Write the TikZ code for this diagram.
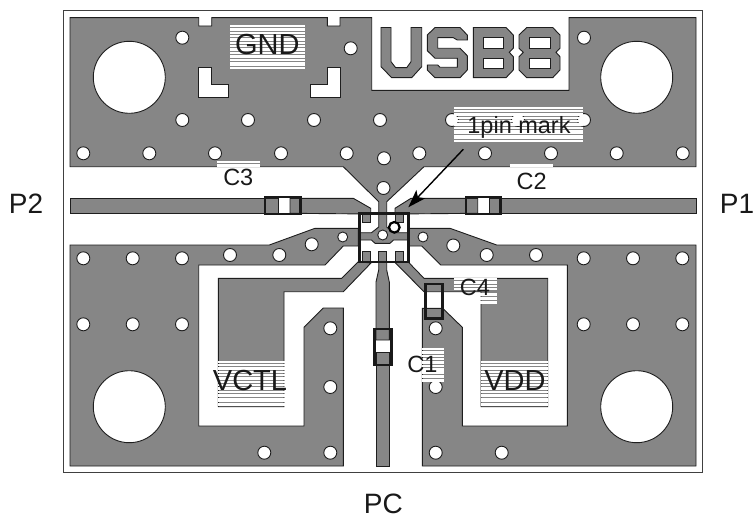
\documentclass[tikz,border=0pt]{standalone}
\usepackage{fontspec}
\setmainfont{Liberation Sans}
\usetikzlibrary{arrows.meta}
\definecolor{cu}{HTML}{868686}
\definecolor{ink}{HTML}{1E1E1E}
\tikzset{
  metal/.style={fill=cu,draw=ink,line width=0.9pt,line join=miter},
  cut/.style={fill=white,draw=ink,line width=0.9pt},
  hole/.style={fill=white,draw=ink,line width=0.9pt},
  capbox/.style={draw=black!90,line width=2.4pt},
  lab/.style={inner sep=0pt,text=black!90},
  big/.style={lab,font=\fontsize{29}{31}\selectfont},
  port/.style={lab,font=\fontsize{28}{30}\selectfont},
  small/.style={lab,font=\fontsize{23.5}{25}\selectfont}
}
\newcommand{\whitebands}[5]{%
  \foreach \i in {1,...,#4}{\fill[white] (#1,{#3+(\i-1)*3.35}) rectangle (#2,{#3+(\i-1)*3.35+2.4});}%
  \foreach \a/\b in {#5}{\fill[white] (#1,\a) rectangle (#2,\b);}%
}
\begin{document}
\begin{tikzpicture}[x=1pt,y=-1pt]
\useasboundingbox (0,0) rectangle (755,519);
\fill[white] (0,0) rectangle (755,519);
\draw[draw=black!75,line width=1pt] (63.3,11) rectangle (702.3,472);
% top plate
\draw[metal] (70,17.7) -- (198.7,17.7) -- (198.7,26) -- (211.7,26) -- (211.7,17.7) -- (327.3,17.7) -- (327.3,26) -- (340,26) -- (340,17.7) -- (371.7,17.7) -- (371.7,90.3) -- (569,90.3) -- (569,17.7) -- (696,17.7) -- (696,166.7) -- (424,166.7) -- (386.7,201.7) -- (386.7,214) -- (378.7,214) -- (378.7,201.7) -- (343.3,166.7) -- (70,166.7) -- cycle;
\draw[cut] (198.7,67.7) -- (211.7,67.7) -- (211.7,84) -- (228.3,84) -- (228.3,97) -- (198.7,97) -- cycle;
\draw[cut] (340,67.7) -- (327.3,67.7) -- (327.3,84) -- (310.7,84) -- (310.7,97) -- (340,97) -- cycle;
% lettering
\draw[metal] (381,27.5) -- (391,27.5) -- (391,61.7) -- (395.7,67.7) -- (406.7,67.7) -- (411,61.7) -- (411,27.5) -- (421.7,27.5) -- (421.7,66.7) -- (411.7,77.7) -- (391.7,77.7) -- (381,66.7) -- cycle;
\draw[metal] (435,27.5) -- (460,27.5) -- (467.3,35) -- (467.3,40) -- (457.3,40) -- (453.3,37.7) -- (437.7,37.7) -- (437.7,48.3) -- (460,48.3) -- (467.3,55.7) -- (467.3,70) -- (460,77.7) -- (435,77.7) -- (427.3,70) -- (427.3,65) -- (437.7,65) -- (440,67.3) -- (457.3,67.3) -- (457.3,58.3) -- (435,58.3) -- (427.3,50.7) -- (427.3,35) -- cycle;
\draw[metal] (473.3,27.5) -- (506,27.5) -- (513.3,35) -- (513.3,48.3) -- (509.3,52.3) -- (513.3,56.7) -- (513.3,70) -- (506,77.7) -- (473.3,77.7) -- cycle;
\draw[cut] (483.3,37.7) rectangle (503.3,48.3);
\draw[cut] (483.3,58.3) rectangle (503.3,68.3);
\draw[metal] (526.7,27.5) -- (552.7,27.5) -- (560,35) -- (560,48.3) -- (556,52.3) -- (560,56.7) -- (560,70) -- (552.7,77.7) -- (526.7,77.7) -- (519,70) -- (519,56.7) -- (523.3,52.3) -- (519,48.3) -- (519,35) -- cycle;
\draw[cut] (529.3,37.7) rectangle (550,48.3);
\draw[cut] (529.3,58.3) rectangle (550,68.3);
% side and lower plates
\draw[metal] (70,245) -- (269.3,245) -- (315,228.3) -- (358.3,228.3) -- (358.3,246) -- (343.3,246) -- (325,265) -- (198.7,265) -- (198.7,426) -- (304,426) -- (304,327.3) -- (323.3,308) -- (343.3,308) -- (343.3,466) -- (70,466) -- cycle;
\draw[metal] (408.3,228.3) -- (450,228.3) -- (496.7,245) -- (696,245) -- (696,466) -- (422.3,466) -- (422.3,308.3) -- (442.7,308.3) -- (462.3,327.3) -- (462.3,426) -- (567.3,426) -- (567.3,265) -- (440.7,265) -- (421.7,246) -- (408.3,246) -- cycle;
\draw[metal] (358.3,261.7) -- (341.7,278.3) -- (218.3,278.3) -- (218.3,406.7) -- (284,406.7) -- (284,291.7) -- (343.3,291.7) -- (371,263) -- cycle;
\draw[metal] (407.3,261) -- (424,278.3) -- (547.7,278.3) -- (547.7,406.7) -- (481,406.7) -- (481,291.7) -- (424,291.7) -- (395,262.5) -- cycle;
% holes
\foreach \p in {(182.3,37.7),(350.7,48.3),(584,37.7),(182.3,120),(248,120),(314,120),(380,120),(452,120),(518,120),(584,120),
  (83.3,153.3),(149.3,153.3),(215,153.3),(281,153.3),(346.7,153.3),(419.3,153.3),(485,153.3),(551,153.3),(616.7,153.3),(682.7,153.3),
  (384,158.3),(383.5,188),
  (83.3,258.3),(132.7,258.3),(182,258.3),(230,255),(279.3,255),(311.7,244.3),
  (83.3,324.3),(132.7,324.3),(182,324.3),(330.3,328.3),(330.3,387),(264.3,452.7),(330.3,452.7),
  (435.7,328.3),(435.7,387),(435.7,452.7),(501.7,452.7),
  (453.3,245.5),(486.7,255),(536,255),(583.7,258.3),(633,258.3),(682.3,258.3),(583.7,324.3),(633,324.3),(682.3,324.3)}
  {\draw[hole] \p circle (6.5);}
\foreach \p in {(342.7,237),(423,237)} {\draw[hole] \p circle (5);}
\foreach \p in {(129.3,77.3),(636.7,77.3),(129.3,406.7),(636.7,406.7)} {\draw[hole] \p circle (36);}
% striplines and centre feed
\draw[metal] (70,198.3) -- (278.3,198.3) -- (278.3,213.3) -- (70,213.3) -- cycle;
\draw[metal] (290,198.3) -- (353.3,198.3) -- (370.7,208.3) -- (370.7,214) -- (290,213.3) -- cycle;
\draw[metal] (696,198.3) -- (489.7,198.3) -- (489.7,213.3) -- (696,213.3) -- cycle;
\draw[metal] (477.7,198.3) -- (411,198.3) -- (395,208.3) -- (395,214) -- (477.7,213.3) -- cycle;
\draw[metal] (376,352.3) rectangle (389.3,466);
\draw[metal] (378.7,255) -- (386.7,255) -- (386.7,270) -- (389.3,282) -- (389.3,340) -- (376,340) -- (376,282) -- (378.7,270) -- cycle;
% device
\fill[white] (359.3,213.3) rectangle (408.3,261.7);
\draw[metal] (362.3,213.3) -- (370.7,213.3) -- (370.7,222.7) -- (362.3,222.7) -- cycle;
\draw[metal] (395,213.3) -- (403.3,213.3) -- (403.3,222.7) -- (395,222.7) -- cycle;
\draw[metal] (359.3,232.7) -- (371.5,232.7) -- (378.7,227) -- (378.7,213.3) -- (386.7,213.3) -- (386.7,227) -- (393.5,232.7) -- (408.3,232.7) -- (408.3,240) -- (393.5,240) -- (390,243.3) -- (375,243.3) -- (371.5,240) -- (359.3,240) -- cycle;
\draw[hole] (382.7,235) circle (5);
\draw[metal] (362.3,251) rectangle (370.7,261.7);
\draw[metal] (378.7,251) rectangle (386.7,261.7);
\draw[metal] (395,251) rectangle (403.3,261.7);
\draw[capbox] (359.3,213.3) rectangle (408.3,261.7);
\draw[draw=black,line width=2.2pt,fill=white] (394.3,227.3) circle (5.3);
% capacitor boxes
\draw[capbox] (265,197) rectangle (300.5,214);
\draw[capbox] (466,197) rectangle (500.5,214);
\draw[capbox] (374.5,329) rectangle (391.5,365);
\draw[capbox] (425.5,284) rectangle (442.5,318.5);
% white hatch under labels
\whitebands{230}{305}{25}{10}{{58.6/61},{62/66},{67/69.5}}
\whitebands{454}{582.7}{106.5}{7}{{130/134},{135/139},{140/141.7}}
\whitebands{218.3}{284.5}{360.5}{10}{{394/397},{398/401.5},{402.5/405.5}}
\whitebands{481}{548}{360.5}{10}{{394/397},{398/401.5},{402.5/405.5}}
\whitebands{454}{496.7}{278}{4}{{292.5/296},{297/300},{301/303.5}}
\whitebands{421.7}{444}{348}{8}{{375/378},{379/381.7}}
\whitebands{216.7}{260}{160.7}{1}{{164/166.9}}
\fill[white] (510,164.2) rectangle (552.7,166.9);
% labels
\node[big] (gnd) at (267.3,44.3) {GND};
\node[big] (vctl) at (250,380.7) {VCTL};
\node[big] (vdd) at (515,380.7) {VDD};
\node[small] (pinmark) at (519,127.3) {1pin mark};
\node[small] (c1) at (422.3,364.3) {C1};
\node[small] (c2) at (531.7,181.7) {C2};
\node[small] (c3) at (238.3,177.7) {C3};
\node[small] (c4) at (475,287.7) {C4};
\node[port] (p1) at (737,204) {P1};
\node[port] (p2) at (26,204) {P2};
\node[port] (pc) at (383.3,504) {PC};
% arrow
\coordinate (arrowstart) at (463.3,149.3);
\coordinate (arrowtip) at (408.3,207.3);
\draw[-{Stealth[length=18pt,width=12pt,inset=4pt]},line width=1.4pt,black] (arrowstart) -- (arrowtip);
\end{tikzpicture}
\end{document}
